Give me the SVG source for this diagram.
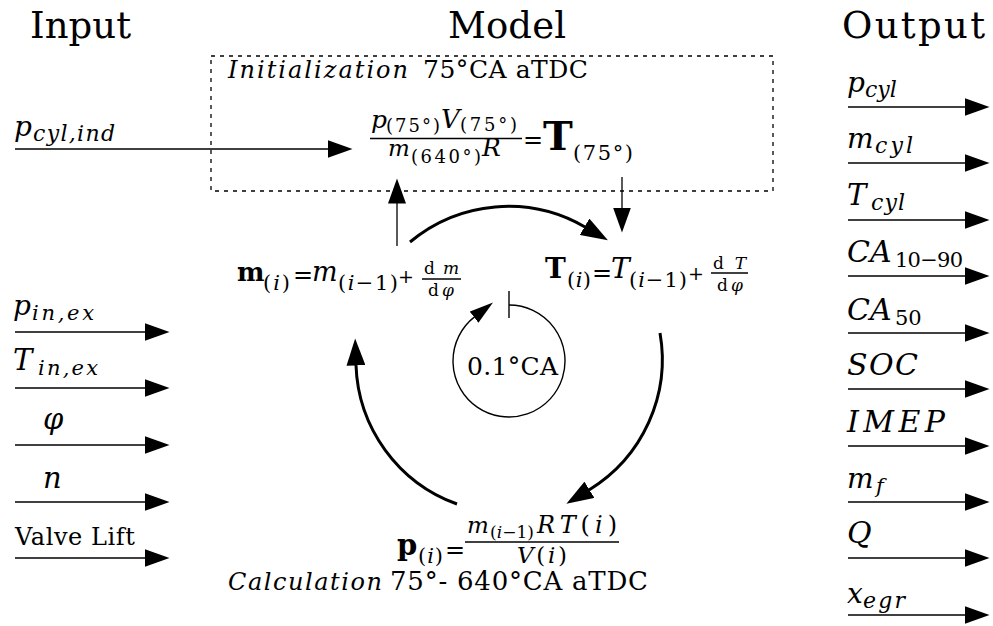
<svg xmlns="http://www.w3.org/2000/svg" width="993" height="626" viewBox="0 0 993 626">
<style>
text{font-family:"DejaVu Serif","Liberation Serif",serif;fill:#000}
.it{font-style:italic}
.bf{font-weight:bold}
.h{font-size:37px}
.ln{fill:none;stroke:#000;stroke-width:1.3}
.arc{fill:none;stroke:#000;stroke-width:3}
.thin{fill:none;stroke:#000;stroke-width:1.4}
.box{fill:none;stroke:#000;stroke-width:1.3;stroke-dasharray:4 5}
</style>
<defs>
<marker id="ah" markerUnits="userSpaceOnUse" viewBox="0 0 25 18" markerWidth="25" markerHeight="18" refX="0.5" refY="9" orient="auto"><path d="M0,0L25,9L0,18z"/></marker>
<marker id="ahb" markerUnits="userSpaceOnUse" viewBox="0 0 27 19" markerWidth="27" markerHeight="19" refX="0.5" refY="9.5" orient="auto"><path d="M0,0L27,9.5L0,19z"/></marker>
<marker id="ahs" markerUnits="userSpaceOnUse" viewBox="0 0 24 14" markerWidth="24" markerHeight="14" refX="0.5" refY="7" orient="auto"><path d="M0,0L24,7L0,14z"/></marker>
</defs>
<rect width="993" height="626" fill="#fff"/>

<g id="headers">
<text class="h" x="30" y="38" textLength="101">Input</text>
<text class="h" x="448" y="38" textLength="118">Model</text>
<text class="h" x="842" y="38" textLength="143">Output</text>
</g>

<g id="init-box">
<rect class="box" x="211" y="56" width="562" height="135"/>
<text class="it" x="228" y="78" font-size="24" textLength="180">Initialization</text>
<text x="423" y="78" font-size="25" textLength="165">75°CA aTDC</text>
</g>

<g id="init-eq">
<text class="it" x="371" y="128" font-size="25">p</text>
<text x="386" y="132" font-size="18" textLength="54">(75°)</text>
<text class="it" x="441" y="128" font-size="26">V</text>
<text x="460" y="131" font-size="18" textLength="57">(75°)</text>
<line class="ln" x1="370" y1="138.5" x2="522" y2="138.5"/>
<text class="it" x="388" y="156" font-size="23">m</text>
<text x="411" y="163" font-size="18" textLength="70">(640°)</text>
<text class="it" x="482" y="156" font-size="25">R</text>
<text x="523" y="148" font-size="24">=</text>
<text class="bf" x="543" y="150" font-size="40">T</text>
<text x="573" y="160" font-size="21" textLength="60">(75°)</text>
</g>

<g id="m-eq">
<text class="bf" x="237" y="281" font-size="26">m</text>
<text x="263" y="290" font-size="21" textLength="27">(<tspan class="it">i</tspan>)</text>
<text x="293" y="283" font-size="24">=</text>
<text class="it" x="312" y="281" font-size="27">m</text>
<text x="338" y="290" font-size="21" textLength="60">(<tspan class="it">i</tspan>−1)</text>
<text x="398" y="283" font-size="19">+</text>
<text x="424" y="274" font-size="17" textLength="35">d<tspan class="it">m</tspan></text>
<line class="ln" x1="422" y1="279" x2="461" y2="279"/>
<text x="428" y="296" font-size="17" textLength="26">d<tspan class="it">φ</tspan></text>
</g>

<g id="T-eq">
<text class="bf" x="545" y="278" font-size="28">T</text>
<text x="567" y="287" font-size="21" textLength="24">(<tspan class="it">i</tspan>)</text>
<text x="592" y="281" font-size="24">=</text>
<text class="it" x="611" y="278" font-size="28">T</text>
<text x="629" y="287" font-size="21" textLength="58">(<tspan class="it">i</tspan>−1)</text>
<text x="688" y="280" font-size="19">+</text>
<text x="713" y="269" font-size="17" textLength="33">d<tspan class="it">T</tspan></text>
<line class="ln" x1="711" y1="273" x2="748" y2="273"/>
<text x="717" y="291" font-size="17" textLength="26">d<tspan class="it">φ</tspan></text>
</g>

<g id="p-eq">
<text class="bf" x="397" y="555" font-size="29">p</text>
<text x="418" y="563" font-size="21" textLength="25">(<tspan class="it">i</tspan>)</text>
<text x="445" y="558" font-size="24">=</text>
<text class="it" x="467" y="533" font-size="23">m</text>
<text x="490" y="538" font-size="17" textLength="44">(<tspan class="it">i</tspan>−1)</text>
<text x="537" y="533" font-size="24" textLength="80"><tspan class="it">RT</tspan>(<tspan class="it">i</tspan>)</text>
<line class="ln" x1="465" y1="542" x2="619" y2="542"/>
<text x="517" y="563" font-size="23" textLength="50"><tspan class="it">V</tspan>(<tspan class="it">i</tspan>)</text>
</g>

<g id="loop-step">
<text x="467" y="375" font-size="25" textLength="91">0.1°CA</text>
</g>

<g id="calc-label">
<text class="it" x="228" y="590" font-size="24" textLength="154">Calculation</text>
<text x="390" y="590" font-size="26" textLength="258">75°- 640°CA aTDC</text>
</g>

<g id="in-pcylind">
<text class="it" x="14" y="136" font-size="28">p</text>
<text class="it" x="33" y="141" font-size="22" textLength="82">cyl,ind</text>
</g>
<g id="in-pinex">
<text class="it" x="13" y="315" font-size="28">p</text>
<text class="it" x="32" y="320" font-size="21" textLength="62">in,ex</text>
</g>
<g id="in-Tinex">
<text class="it" x="13" y="370" font-size="29">T</text>
<text class="it" x="38" y="375" font-size="21" textLength="60">in,ex</text>
</g>
<g id="in-phi"><text class="it" x="43" y="429" font-size="29">φ</text></g>
<g id="in-n"><text class="it" x="43" y="488" font-size="29">n</text></g>
<g id="in-valve"><text x="15" y="545" font-size="24" textLength="120">Valve Lift</text></g>

<g id="out-pcyl">
<text class="it" x="847" y="92" font-size="28">p</text>
<text class="it" x="865" y="97" font-size="22">cyl</text>
</g>
<g id="out-mcyl">
<text class="it" x="847" y="148" font-size="28">m</text>
<text class="it" x="875" y="153" font-size="22" textLength="38">cyl</text>
</g>
<g id="out-Tcyl">
<text class="it" x="847" y="205" font-size="29">T</text>
<text class="it" x="871" y="210" font-size="22" textLength="34">cyl</text>
</g>
<g id="out-ca1090">
<text class="it" x="847" y="262" font-size="30">CA</text>
<text x="895" y="267" font-size="21" textLength="68">10−90</text>
</g>
<g id="out-ca50">
<text class="it" x="847" y="320" font-size="30">CA</text>
<text x="895" y="325" font-size="21">50</text>
</g>
<g id="out-soc"><text class="it" x="847" y="375" font-size="30" textLength="71">SOC</text></g>
<g id="out-imep"><text class="it" x="847" y="432" font-size="30" textLength="98">IMEP</text></g>
<g id="out-mf">
<text class="it" x="847" y="488" font-size="28">m</text>
<text class="it" x="876" y="493" font-size="21">f</text>
</g>
<g id="out-Q"><text class="it" x="847" y="543" font-size="30">Q</text></g>
<g id="out-xegr">
<text class="it" x="847" y="603" font-size="28">x</text>
<text class="it" x="863" y="608" font-size="22" textLength="42">egr</text>
</g>

<g id="connectors">
<path class="ln" d="M15 149H328" marker-end="url(#ah)"/>
<path class="ln" d="M15 332H145" marker-end="url(#ah)"/>
<path class="ln" d="M15 388H145" marker-end="url(#ah)"/>
<path class="ln" d="M15 445H145" marker-end="url(#ah)"/>
<path class="ln" d="M15 502H145" marker-end="url(#ah)"/>
<path class="ln" d="M15 558H145" marker-end="url(#ah)"/>
<path class="ln" d="M848 107H965" marker-end="url(#ah)"/>
<path class="ln" d="M848 163H965" marker-end="url(#ah)"/>
<path class="ln" d="M848 220H965" marker-end="url(#ah)"/>
<path class="ln" d="M848 276H965" marker-end="url(#ah)"/>
<path class="ln" d="M848 333H965" marker-end="url(#ah)"/>
<path class="ln" d="M848 389H965" marker-end="url(#ah)"/>
<path class="ln" d="M848 446H965" marker-end="url(#ah)"/>
<path class="ln" d="M848 502H965" marker-end="url(#ah)"/>
<path class="ln" d="M848 558H965" marker-end="url(#ah)"/>
<path class="ln" d="M848 615H965" marker-end="url(#ah)"/>
<path class="ln" d="M397 246V203" marker-end="url(#ah)"/>
<path class="ln" d="M622 177V208" marker-end="url(#ah)"/>
<path class="arc" d="M410 242A153 153 0 0 1 585 227" marker-end="url(#ahb)"/>
<path class="arc" d="M660 333A153 153 0 0 1 589 490" marker-end="url(#ahb)"/>
<path class="arc" d="M457 504A153 153 0 0 1 356 365" marker-end="url(#ahb)"/>
<path class="thin" d="M509 305A56 56 0 1 1 474.5 316.9" marker-end="url(#ahs)"/>
<path class="thin" d="M509 291V318"/>
</g>
</svg>
